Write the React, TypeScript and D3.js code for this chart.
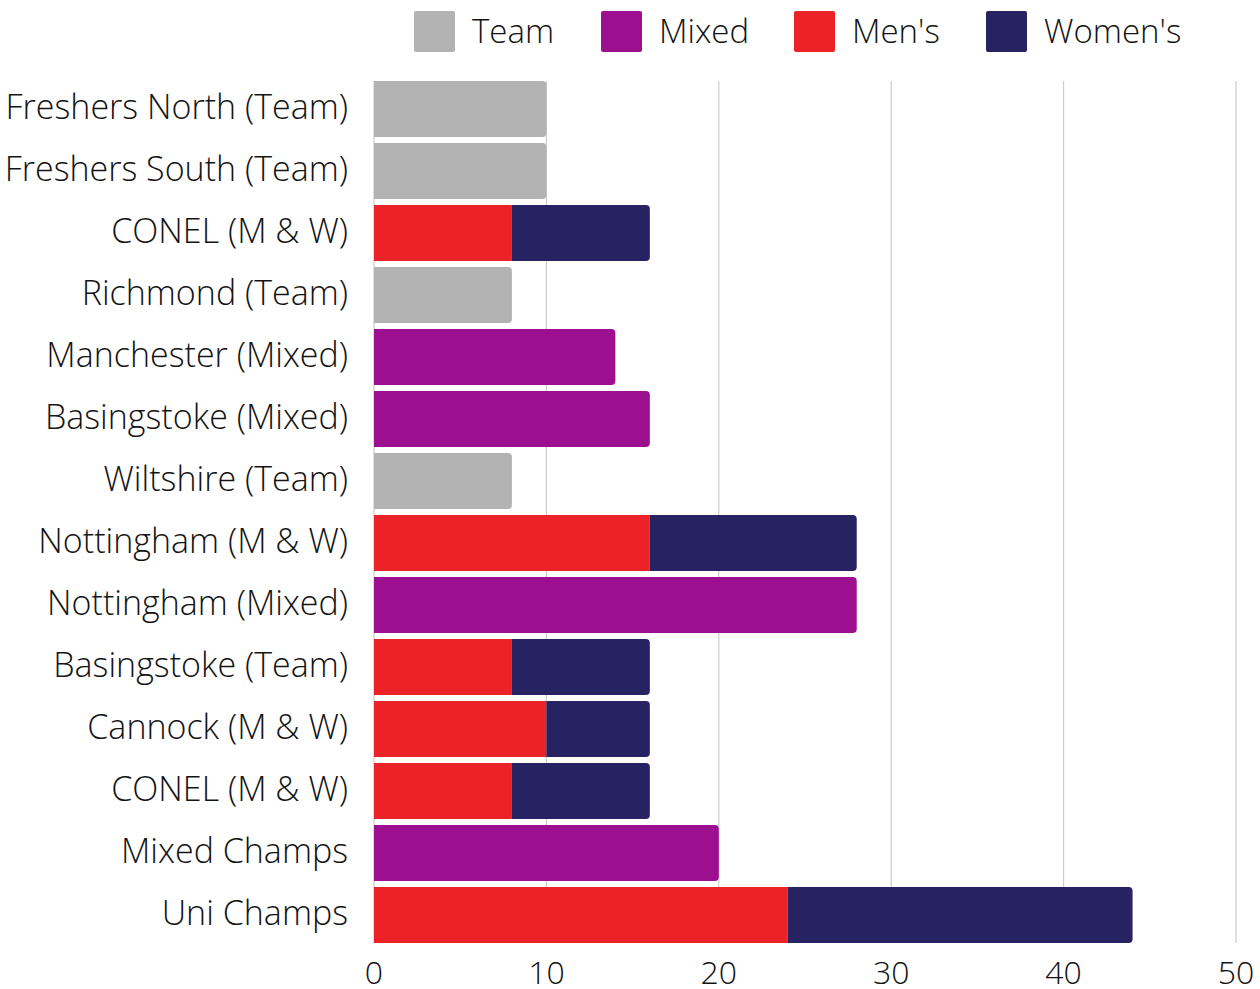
import React, { useEffect, useRef } from 'react';
import * as d3 from 'd3';

const categories = [
  'Freshers North (Team)',
  'Freshers South (Team)',
  'CONEL (M & W)',
  'Richmond (Team)',
  'Manchester (Mixed)',
  'Basingstoke (Mixed)',
  'Wiltshire (Team)',
  'Nottingham (M & W)',
  'Nottingham (Mixed)',
  'Basingstoke (Team)',
  'Cannock (M & W)',
  'CONEL (M & W)',
  'Mixed Champs',
  'Uni Champs',
];

const seriesNames = ['Team', 'Mixed', "Men's", "Women's"];
const team = [10, 10, 0, 8, 0, 0, 8, 0, 0, 0, 0, 0, 0, 0];
const mixed = [0, 0, 0, 0, 14, 16, 0, 0, 28, 0, 0, 0, 20, 0];
const mens = [0, 0, 8, 0, 0, 0, 0, 16, 0, 8, 10, 8, 0, 24];
const womens = [0, 0, 8, 0, 0, 0, 0, 12, 0, 8, 6, 8, 0, 20];
const xTicks = [0, 10, 20, 30, 40, 50];

const colors = ['#b3b3b3', '#9c0f8f', '#ec2227', '#272262'];

// page coordinates (svg placed at the page's top-left corner)
const W = 1260;
const H = 989;
const left = 374;
const right = 1236;
const top = 78;
const bottom = 946;

const font = '"Open Sans", sans-serif';
const textColor = '#141414';

const App = () => {
  const svgRef = useRef<SVGSVGElement>(null);

  useEffect(() => {
    const svg = d3.select(svgRef.current);
    svg.selectAll('*').remove();

    const values = [team, mixed, mens, womens];
    const rows = categories.map((c, i) => {
      const r: any = { key: i, name: c };
      seriesNames.forEach((s, j) => (r[s] = values[j][i]));
      return r;
    });

    const x = d3.scaleLinear().domain([0, 50]).range([left, right]);
    const y = d3
      .scaleBand<number>()
      .domain(rows.map((r) => r.key))
      .range([top, bottom])
      .paddingInner(0.1)
      .paddingOuter(0.05);

    // gridlines
    svg
      .append('g')
      .selectAll('line')
      .data(xTicks)
      .join('line')
      .attr('x1', (d) => x(d))
      .attr('x2', (d) => x(d))
      .attr('y1', top + 3)
      .attr('y2', bottom - 3)
      .attr('stroke', '#cccccc')
      .attr('stroke-width', 1.2);

    const stack = d3.stack<any>().keys(seriesNames);
    const layers = stack(rows);

    // last non-zero segment per row gets rounded right corners
    const lastIdx = rows.map((r) => {
      let k = -1;
      seriesNames.forEach((s, j) => {
        if (r[s] > 0) k = j;
      });
      return k;
    });

    const rad = 4;
    layers.forEach((layer, j) => {
      svg
        .append('g')
        .selectAll('path')
        .data(layer.filter((d) => d[1] - d[0] > 0))
        .join('path')
        .attr('fill', colors[j])
        .attr('d', (d: any) => {
          const x0 = x(d[0]);
          const x1 = x(d[1]);
          const y0 = y(d.data.key)!;
          const h = y.bandwidth();
          if (lastIdx[d.data.key] === j) {
            return `M${x0},${y0}H${x1 - rad}Q${x1},${y0} ${x1},${y0 + rad}V${y0 + h - rad}Q${x1},${y0 + h} ${x1 - rad},${y0 + h}H${x0}Z`;
          }
          return `M${x0},${y0}H${x1}V${y0 + h}H${x0}Z`;
        });
    });

    // category labels
    svg
      .append('g')
      .selectAll('text')
      .data(rows)
      .join('text')
      .attr('x', left - 26)
      .attr('y', (d) => y(d.key)! + y.bandwidth() / 2)
      .attr('dy', '0.28em')
      .attr('text-anchor', 'end')
      .attr('font-family', font)
      .attr('font-weight', 300)
      .attr('font-size', 34)
      .attr('fill', textColor)
      .text((d) => d.name);

    // x tick labels
    svg
      .append('g')
      .selectAll('text')
      .data(xTicks)
      .join('text')
      .attr('x', (d) => x(d))
      .attr('y', 984)
      .attr('text-anchor', 'middle')
      .attr('font-family', font)
      .attr('font-weight', 300)
      .attr('font-size', 32)
      .attr('fill', textColor)
      .text((d) => d);

    // legend
    const legendX = [414, 601, 794, 986];
    const lg = svg
      .append('g')
      .selectAll('g')
      .data(seriesNames)
      .join('g')
      .attr('transform', (d, i) => `translate(${legendX[i]},11)`);
    lg.append('rect')
      .attr('width', 41)
      .attr('height', 41)
      .attr('rx', 2)
      .attr('fill', (d, i) => colors[i]);
    lg.append('text')
      .attr('x', 58)
      .attr('y', 20)
      .attr('dy', '0.35em')
      .attr('font-family', font)
      .attr('font-weight', 300)
      .attr('font-size', 33)
      .attr('fill', textColor)
      .text((d) => d);
  }, []);

  return (
    <svg
      ref={svgRef}
      width={W}
      height={H}
      style={{ display: 'block', position: 'absolute', left: 0, top: 0 }}
    />
  );
};

export default App;
